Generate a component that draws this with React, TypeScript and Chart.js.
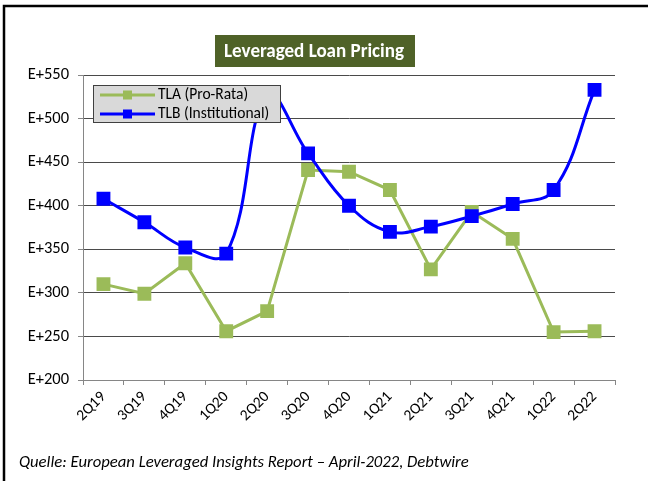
import React, { useEffect, useRef } from "react";
import { Chart, registerables } from "chart.js";

Chart.register(...registerables);

const categories = ["2Q19", "3Q19", "4Q19", "1Q20", "2Q20", "3Q20", "4Q20", "1Q21", "2Q21", "3Q21", "4Q21", "1Q22", "2Q22"];
const tlaValues = [310, 299, 334, 256, 279, 441, 439, 418, 327, 393, 362, 255, 256];
const tlbValues = [408, 381, 352, 345, 527, 460, 400, 370, 376, 388, 402, 418, 533];
const yTicks = [200, 250, 300, 350, 400, 450, 500, 550];
const seriesNames = ["TLA (Pro-Rata)", "TLB (Institutional)"];
const titleText = "Leveraged Loan Pricing";
const sourceText = "Quelle: European Leveraged Insights Report \u2013 April-2022, Debtwire";

const GREEN = "#9BBB59";
const BLUE = "#0000FF";
const FONT = "Carlito, Lato, 'Liberation Sans', sans-serif";

function fitFont(ctx: any, style: string, text: string, width: number) {
  ctx.font = style + " 20px " + FONT;
  const w = ctx.measureText(text).width;
  const size = (20 * width) / w;
  ctx.font = style + " " + size.toFixed(2) + "px " + FONT;
}

const decorPlugin = {
  id: "decor",
  beforeDraw(chart: any) {
    const ctx = chart.ctx;
    ctx.save();
    ctx.fillStyle = "#fff";
    ctx.fillRect(0, 0, chart.width, chart.height);
    ctx.restore();
  },
  afterDraw(chart: any) {
    const ctx = chart.ctx;
    ctx.save();
    // frame
    ctx.strokeStyle = "#000";
    ctx.lineWidth = 2.5;
    ctx.beginPath();
    ctx.moveTo(4, chart.height);
    ctx.lineTo(4, 6);
    ctx.lineTo(chart.width, 6);
    ctx.stroke();

    // title
    ctx.fillStyle = "#4F6228";
    ctx.fillRect(215, 35, 200, 32);
    ctx.fillStyle = "#fff";
    fitFont(ctx, "bold", titleText, 180);
    ctx.textAlign = "center";
    ctx.textBaseline = "middle";
    ctx.fillText(titleText, 314, 52);

    // footnote
    ctx.fillStyle = "#000";
    fitFont(ctx, "italic", sourceText, 450);
    ctx.textAlign = "left";
    ctx.textBaseline = "middle";
    ctx.fillText(sourceText, 19, 463);

    // legend
    ctx.fillStyle = "#D9D9D9";
    ctx.fillRect(93.5, 85.5, 187, 37);
    ctx.strokeStyle = "#404040";
    ctx.lineWidth = 1;
    ctx.strokeRect(93.5, 85.5, 187, 37);
    const colors = [GREEN, BLUE];
    const rows = [95, 114];
    for (let i = 0; i < 2; i++) {
      const y = rows[i];
      ctx.strokeStyle = colors[i];
      ctx.lineWidth = 3;
      ctx.beginPath();
      ctx.moveTo(100, y);
      ctx.lineTo(155, y);
      ctx.stroke();
      ctx.fillStyle = colors[i];
      ctx.fillRect(123, y - 4.5, 9, 9);
      ctx.fillStyle = "#000";
      ctx.font = "15.5px " + FONT;
      ctx.textAlign = "left";
      ctx.textBaseline = "middle";
      ctx.fillText(seriesNames[i], 158, y + 0.5);
    }
    ctx.restore();
  },
};

export default function App() {
  const ref = useRef<HTMLCanvasElement | null>(null);
  useEffect(() => {
    document.body.style.margin = "0";
    const canvas = ref.current!;
    const chart = new Chart(canvas, {
      type: "line",
      data: {
        labels: categories,
        datasets: [
          {
            label: seriesNames[0],
            data: tlaValues,
            borderColor: GREEN,
            backgroundColor: GREEN,
            borderWidth: 3,
            pointStyle: "rect",
            pointRadius: 9.8,
            pointBorderWidth: 0,
            pointBackgroundColor: GREEN,
            tension: 0,
            order: 2,
          },
          {
            label: seriesNames[1],
            data: tlbValues,
            borderColor: BLUE,
            backgroundColor: BLUE,
            borderWidth: 3,
            pointStyle: "rect",
            pointRadius: 9.8,
            pointBorderWidth: 0,
            pointBackgroundColor: BLUE,
            tension: 0.4,
            order: 1,
          },
        ],
      },
      options: {
        responsive: false,
        animation: false,
        devicePixelRatio: 1,
        layout: { padding: { left: 0, right: 33, top: 75, bottom: 41 } },
        plugins: {
          legend: { display: false },
          title: { display: false },
          tooltip: { enabled: false },
        },
        scales: {
          x: {
            offset: true,
            grid: {
              display: true,
              offset: true,
              drawOnChartArea: false,
              drawTicks: true,
              tickLength: 5,
              tickColor: "#868686",
              tickWidth: 1,
            },
            border: { display: true, color: "#868686", width: 1 },
            ticks: {
              color: "#000",
              font: { family: FONT, size: 15.5 },
              maxRotation: 45,
              minRotation: 45,
              padding: 3,
              autoSkip: false,
            },
            afterFit(scale: any) {
              scale.height = 60;
            },
          },
          y: {
            min: 200,
            max: 550,
            afterBuildTicks(scale: any) {
              scale.ticks = yTicks.map((v) => ({ value: v }));
            },
            grid: {
              display: true,
              color: "#4a4a4a",
              lineWidth: 1,
              borderDash: [1, 1],
              drawTicks: true,
              tickLength: 5,
              tickColor: "#868686",
              tickWidth: 1,
              tickBorderDash: [],
            },
            border: { display: true, color: "#868686", width: 1 },
            ticks: {
              color: "#000",
              font: { family: FONT, size: 16.5 },
              padding: 9,
              callback: (v: any) => "E+" + v,
            },
            afterFit(scale: any) {
              scale.width = 83;
            },
          },
        },
      },
      plugins: [decorPlugin],
    } as any);
    return () => chart.destroy();
  }, []);
  return (
    <div style={{ position: "absolute", left: 0, top: 0, width: 648, height: 481 }}>
      <canvas ref={ref} width={648} height={481} style={{ width: 648, height: 481, display: "block" }} />
    </div>
  );
}
